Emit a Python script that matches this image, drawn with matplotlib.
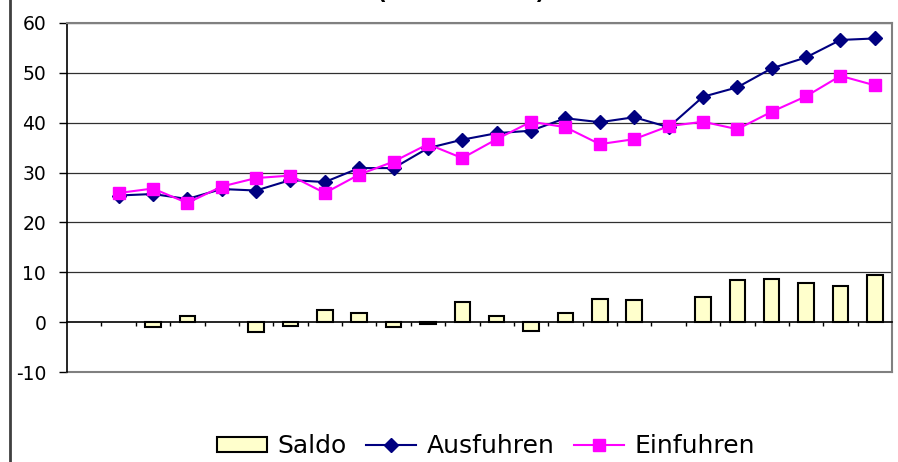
import matplotlib.pyplot as plt
import numpy as np
from matplotlib.lines import Line2D

# Werte (Mrd.), erste Kategorie ist leer
ausfuhren = [25.4, 25.7, 24.7, 26.7, 26.4, 28.5, 28.1, 30.9, 30.9, 34.9, 36.6, 37.9,
             38.4, 40.9, 40.1, 41.1, 39.1, 45.2, 47.1, 50.9, 53.1, 56.6, 56.9]
einfuhren = [25.9, 26.8, 23.9, 27.2, 28.9, 29.4, 25.9, 29.6, 32.2, 35.7, 32.9, 36.7,
             40.2, 39.1, 35.7, 36.7, 39.3, 40.2, 38.7, 42.2, 45.3, 49.4, 47.5]
saldo = [0.0, -1.0, 1.3, 0.0, -2.0, -0.8, 2.4, 1.9, -1.0, -0.3, 4.1, 1.2,
         -1.7, 1.9, 4.7, 4.4, 0.0, 5.0, 8.5, 8.7, 7.9, 7.3, 9.5]
n_kategorien = 24
y_ticks = [-10, 0, 10, 20, 30, 40, 50, 60]

x = np.arange(1, len(ausfuhren) + 1)
saldo = np.array(saldo)
mit_wert = saldo != 0  # leere Kategorien ohne Balken

fig = plt.figure(figsize=(8.98, 4.62), dpi=100)
ax = fig.add_axes([67/898, 1 - 372/462, 825/898, 349/462])

# Balken fuer Saldo
ax.bar(x[mit_wert], saldo[mit_wert], width=0.45, color='#FFFFCC', edgecolor='black',
       linewidth=1.5, label='Saldo', zorder=3)

# Linien
ax.plot(x, ausfuhren, color='#000080', marker='D', markersize=7, linewidth=1.5,
        label='Ausfuhren', zorder=4)
ax.plot(x, einfuhren, color='#FF00FF', marker='s', markersize=8, linewidth=1.5,
        label='Einfuhren', zorder=5)

ax.set_xlim(-0.5, n_kategorien - 0.5)
ax.set_ylim(-10, 60)
ax.set_yticks(y_ticks)
ax.set_yticklabels([str(v) for v in y_ticks])
ax.tick_params(axis='y', length=6, width=1, pad=9, labelsize=13.5, direction='out')

# Rasterlinien
for v in y_ticks[2:]:
    ax.axhline(v, color='#303030', linewidth=0.9, zorder=1)

# Kategorienachse bei 0
ax.spines['bottom'].set_position(('data', 0))
ax.spines['bottom'].set_color('black')
ax.spines['bottom'].set_linewidth(1.2)
ax.set_xticks(np.arange(0.5, n_kategorien - 0.5, 1))
ax.set_xticklabels([])
ax.tick_params(axis='x', length=3, width=1, direction='out')

ax.spines['left'].set_color('black')
ax.spines['left'].set_linewidth(1.2)
ax.spines['top'].set_color('#808080')
ax.spines['right'].set_color('#808080')
ax.spines['top'].set_linewidth(1.5)
ax.spines['right'].set_linewidth(1.5)
ax.axhline(-10, color='#808080', linewidth=1.5, clip_on=False, zorder=2)

# Legende
handles, labels = ax.get_legend_handles_labels()
order = [labels.index('Saldo'), labels.index('Ausfuhren'), labels.index('Einfuhren')]
fig.legend([handles[i] for i in order], [labels[i] for i in order],
           loc='center', bbox_to_anchor=(486/898, 1 - 446/462), ncol=3, frameon=False,
           fontsize=18, handlelength=2.0, handleheight=0.55, handletextpad=0.4,
           columnspacing=0.8, borderpad=0)

# Titel oben abgeschnitten, wie im Original nur die Klammern sichtbar
fig.text(461/898, 1 + 1/462, '(in Mrd. Euro)', ha='center', va='baseline',
         fontsize=15.5, fontweight='bold')

# linker Rahmen
fig.add_artist(Line2D([10/898, 10/898], [0, 1], color='#404040', linewidth=2))

fig.savefig('out.png', dpi=100)
